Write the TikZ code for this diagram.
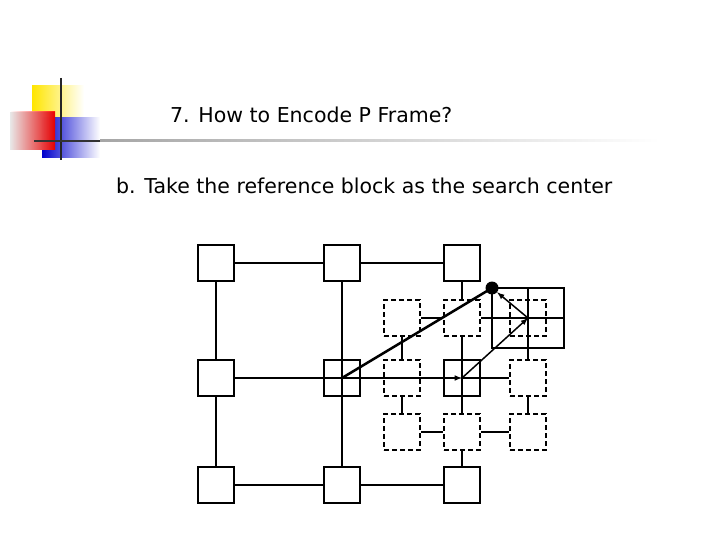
\documentclass[tikz,border=0pt]{standalone}
\usepackage{fontspec}
\setmainfont{DejaVu Sans}
\begin{document}
\begin{tikzpicture}[x=1pt,y=-1pt,
  sbox/.style={draw,line width=1.5pt,minimum size=36pt,inner sep=0pt,fill=white},
  dbox/.style={draw,line width=1.5pt,dash pattern=on 5pt off 3pt,minimum size=36pt,inner sep=0pt},
  ln/.style={line width=1.5pt},
  txt/.style={font=\fontsize{20.5}{24}\selectfont,anchor=west,inner sep=0pt}]
\useasboundingbox[fill=white] (0,0) rectangle (720,540);
% logo
\fill[left color=yellow!80!orange,right color=white] (32,86) rectangle (84,120);
\fill[left color=blue!80!black,right color=white] (42,118) rectangle (100,158);
\fill[left color=white,right color=red,opacity=0.9] (10,112) rectangle (55,150);
\draw[line width=2pt,black!85] (61,78) -- (61,160);
\draw[line width=2pt,black!80] (34,141) -- (120,141);
\shade[left color=gray!70,right color=white] (100,140) rectangle (660,142);
\node[txt] (title) at (170,115) {7. How to Encode P Frame?};
\node[txt] (sub) at (116,186) {b. Take the reference block as the search center};
% dashed boxes
\foreach \n/\x/\y in {d1/402/318,d2/462/318,d3/528/318,d4/402/378,d6/528/378,d7/402/432,d8/462/432,d9/528/432}
  \node[dbox] (\n) at (\x,\y) {};
% search window
\node[draw,line width=1.5pt,minimum width=72pt,minimum height=60pt,inner sep=0pt] (win) at (528,318) {};
% solid boxes
\foreach \n/\x/\y in {a1/216/263,a2/342/263,a3/462/263,b1/216/378,b2/342/378,b3/462/378,c1/216/485,c2/342/485,c3/462/485}
  \node[sbox] (\n) at (\x,\y) {};
% grid lines
\draw[ln] (a1) -- (a2) -- (a3);
\draw[ln] (c1) -- (c2) -- (c3);
\draw[ln] (a1) -- (b1) -- (c1);
\draw[ln] (a2) -- (b2.center) -- (c2);
\draw[ln] (b1) -- (b2.center);
\draw[ln] (b3.center) -- (d6);
\draw[ln] (a3) -- (d2) -- (b3.center) -- (d8) -- (c3);
\draw[ln] (d1) -- (d2);
\draw[ln] (d2) -- (win.east);
\draw[ln] (d1) -- (d4) -- (d7);
\draw[ln] (d7) -- (d8) -- (d9);
\draw[ln] (d6) -- (d9);
\draw[ln] (win.north) -- (d6);
\draw[ln] (b2.north) -- (b2.south);
\draw[ln] (b3.north) -- (b3.south);
% motion vectors
\node[circle,fill,inner sep=0pt,minimum size=13pt] (dot) at (492,288) {};
\draw[line width=2.5pt] (b2.center) -- (dot.center);
\draw[line width=1.5pt,-latex] (b2.center) -- (b3.center);
\draw[line width=1.5pt,-latex] (b3.center) -- (win.center);
\draw[line width=1.5pt,-latex] (win.center) -- (dot);
\end{tikzpicture}
\end{document}
